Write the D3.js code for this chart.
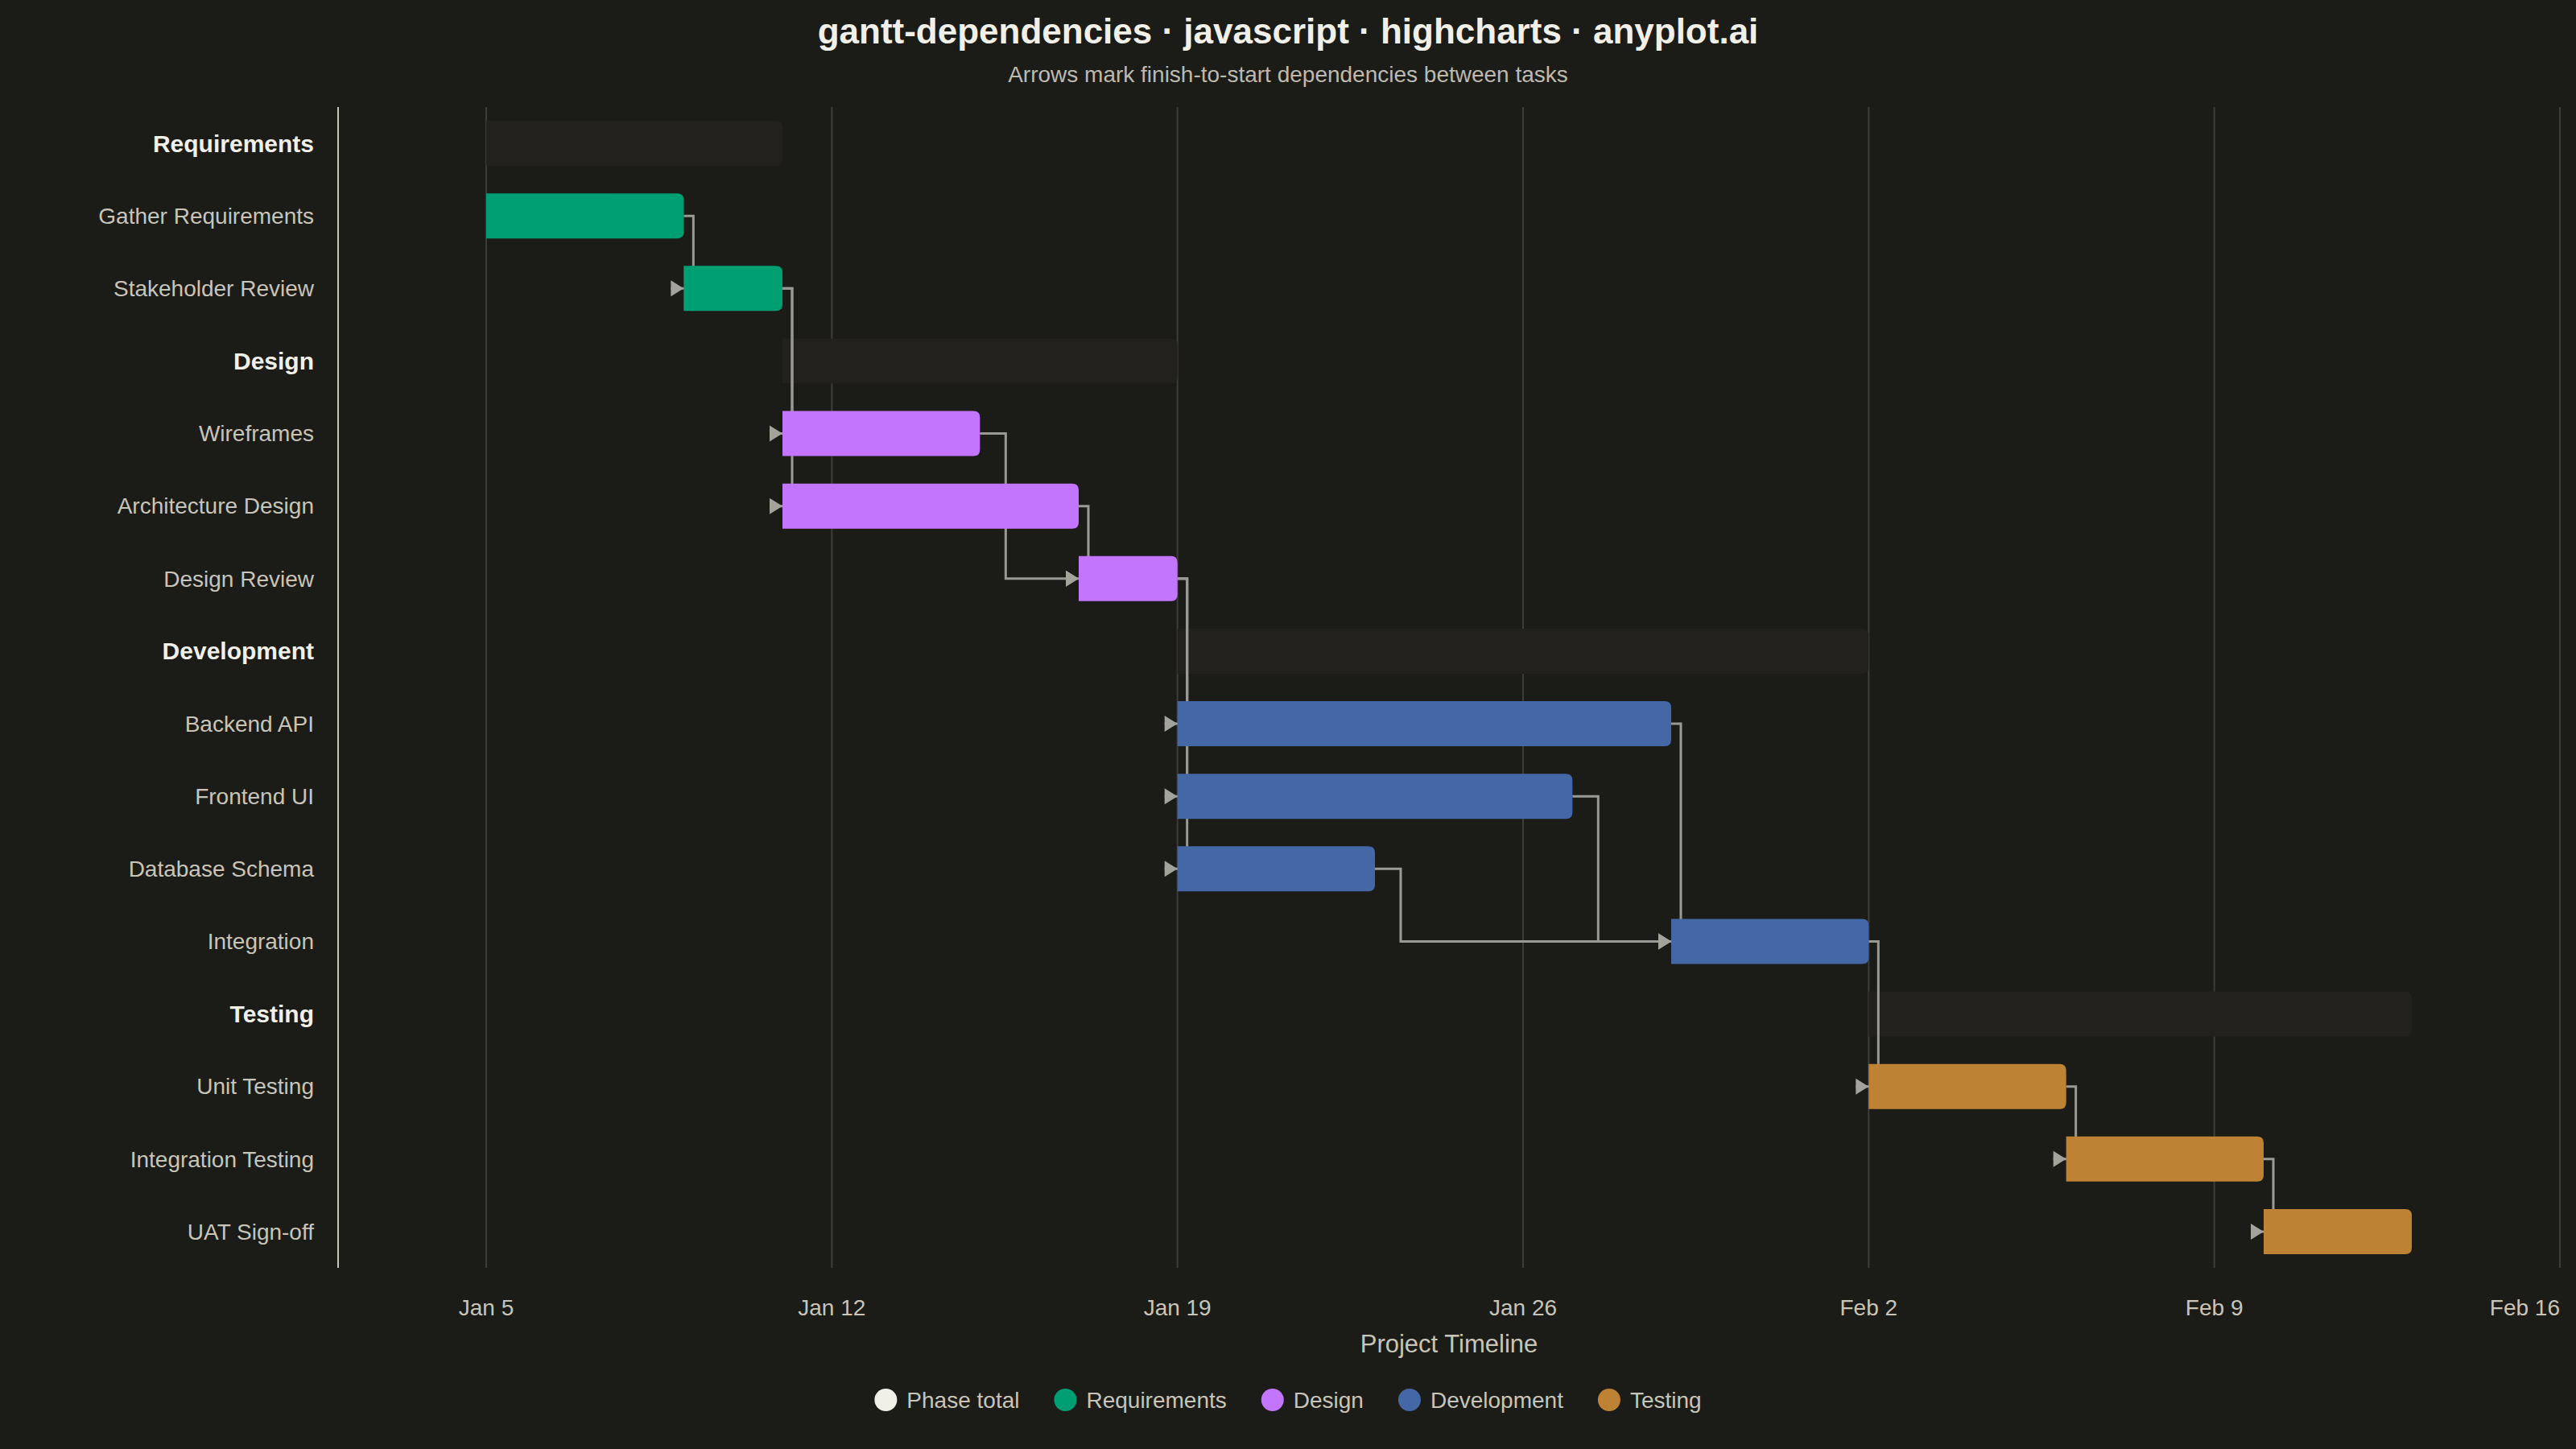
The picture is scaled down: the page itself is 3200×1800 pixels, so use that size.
<!DOCTYPE html>
<html>
<head>
<meta charset="utf-8">
<script src="https://cdn.jsdelivr.net/npm/d3@7"></script>
<style>
html, body { margin: 0; padding: 0; background: #1b1b18; }
svg { display: block; }
text { font-family: "Liberation Sans", Arial, sans-serif; }
</style>
</head>
<body>
<div id="chart"></div>
<script>
var width = 3200, height = 1800;
var margins = {left: 420, right: 20, top: 133, bottom: 225};

// phases and their summary bars
var phases = ['Requirements', 'Design', 'Development', 'Testing'];
var phaseColors = ['#009e73', '#c475fd', '#4467a6', '#bd8233'];
var phaseStart = ['2025-01-05', '2025-01-11', '2025-01-19', '2025-02-02'];
var phaseEnd = ['2025-01-11', '2025-01-19', '2025-02-02', '2025-02-13'];

// tasks
var tasks = ['Gather Requirements', 'Stakeholder Review', 'Wireframes', 'Architecture Design', 'Design Review',
    'Backend API', 'Frontend UI', 'Database Schema', 'Integration', 'Unit Testing', 'Integration Testing', 'UAT Sign-off'];
var taskPhase = [0, 0, 1, 1, 1, 2, 2, 2, 2, 3, 3, 3];
var taskStart = ['2025-01-05', '2025-01-09', '2025-01-11', '2025-01-11', '2025-01-17',
    '2025-01-19', '2025-01-19', '2025-01-19', '2025-01-29', '2025-02-02', '2025-02-06', '2025-02-10'];
var taskEnd = ['2025-01-09', '2025-01-11', '2025-01-15', '2025-01-17', '2025-01-19',
    '2025-01-29', '2025-01-27', '2025-01-23', '2025-02-02', '2025-02-06', '2025-02-10', '2025-02-13'];

// finish-to-start links, [from task, to task]
var dependencies = [[0, 1], [1, 2], [1, 3], [2, 4], [3, 4], [4, 5], [4, 6], [4, 7],
    [5, 8], [6, 8], [7, 8], [8, 9], [9, 10], [10, 11]];

var axisDomain = ['2025-01-02', '2025-02-16'];
var legendLabels = ['Phase total'].concat(phases);
var legendColors = ['#f0efe8'].concat(phaseColors);

var parse = d3.utcParse('%Y-%m-%d');

// one row per phase header followed by its tasks
var rows = [];
phases.forEach(function(p, pi) {
    rows.push({label: p, phase: pi, isPhase: true, start: parse(phaseStart[pi]), end: parse(phaseEnd[pi])});
    tasks.forEach(function(t, ti) {
        if (taskPhase[ti] === pi) rows.push({label: t, phase: pi, isPhase: false, task: ti,
            start: parse(taskStart[ti]), end: parse(taskEnd[ti])});
    });
});
var taskRow = {};
rows.forEach(function(r, i) { r.index = i; if (!r.isPhase) taskRow[r.task] = r; });

var x = d3.scaleUtc()
    .domain(axisDomain.map(parse))
    .range([margins.left, width - margins.right]);
var y = d3.scaleBand()
    .domain(d3.range(rows.length))
    .range([margins.top, height - margins.bottom]);
var barH = y.bandwidth() * 0.62;

var vis = d3.select('#chart').append('svg')
    .attr('width', width)
    .attr('height', height)
    .attr('viewBox', '0 0 ' + width + ' ' + height);

vis.append('rect').attr('width', width).attr('height', height).attr('fill', '#1b1b18');

// title
vis.append('text')
    .attr('x', width / 2).attr('y', 54)
    .attr('text-anchor', 'middle')
    .attr('font-size', 44).attr('font-weight', 'bold')
    .attr('fill', '#f0efe8')
    .text('gantt-dependencies \u00b7 javascript \u00b7 highcharts \u00b7 anyplot.ai');
vis.append('text')
    .attr('x', width / 2).attr('y', 102)
    .attr('text-anchor', 'middle')
    .attr('font-size', 28)
    .attr('fill', '#bdb9ae')
    .text('Arrows mark finish-to-start dependencies between tasks');

// vertical grid
var ticks = x.ticks(d3.utcSunday);
vis.append('g').selectAll('line')
    .data(ticks)
    .enter().append('line')
    .attr('x1', function(d) { return x(d); })
    .attr('x2', function(d) { return x(d); })
    .attr('y1', margins.top).attr('y2', height - margins.bottom)
    .attr('stroke', '#3c3c38').attr('stroke-width', 2);

// tick labels
var fmt = d3.utcFormat('%b %-d');
vis.append('g').selectAll('text')
    .data(ticks)
    .enter().append('text')
    .attr('x', function(d, i) { return i === ticks.length - 1 ? width - margins.right : x(d); })
    .attr('y', 1634)
    .attr('text-anchor', function(d, i) { return i === ticks.length - 1 ? 'end' : 'middle'; })
    .attr('font-size', 28)
    .attr('fill', '#c8c4b8')
    .text(fmt);

vis.append('text')
    .attr('x', (margins.left + width - margins.right) / 2).attr('y', 1680)
    .attr('text-anchor', 'middle')
    .attr('font-size', 31)
    .attr('fill', '#c8c4b8')
    .text('Project Timeline');

// left axis line
vis.append('line')
    .attr('x1', margins.left).attr('x2', margins.left)
    .attr('y1', margins.top).attr('y2', height - margins.bottom)
    .attr('stroke', '#c8c4b8').attr('stroke-width', 2);

// row labels
vis.append('g').selectAll('text')
    .data(rows)
    .enter().append('text')
    .attr('x', 390)
    .attr('y', function(d) { return y(d.index) + y.bandwidth() / 2; })
    .attr('dy', '0.35em')
    .attr('text-anchor', 'end')
    .attr('font-size', function(d) { return d.isPhase ? 30 : 28; })
    .attr('font-weight', function(d) { return d.isPhase ? 'bold' : 'normal'; })
    .attr('fill', function(d) { return d.isPhase ? '#f0efe8' : '#c8c4b8'; })
    .text(function(d) { return d.label; });

// bar with rounded right end only
function barPath(x0, x1, yc, h, r) {
    var t = yc - h / 2, b = yc + h / 2;
    return 'M' + x0 + ',' + t + 'H' + (x1 - r) + 'Q' + x1 + ',' + t + ' ' + x1 + ',' + (t + r) +
        'V' + (b - r) + 'Q' + x1 + ',' + b + ' ' + (x1 - r) + ',' + b + 'H' + x0 + 'Z';
}
function rowMid(r) { return y(r.index) + y.bandwidth() / 2; }

// phase summary bars
vis.append('g').selectAll('path')
    .data(rows.filter(function(r) { return r.isPhase; }))
    .enter().append('path')
    .attr('d', function(d) { return barPath(x(d.start), x(d.end), rowMid(d), barH, 8); })
    .attr('fill', '#22211e');

// dependency connectors
var arrowLen = 16, arrowHalf = 10;
var links = dependencies.map(function(dep) {
    var a = taskRow[dep[0]], b = taskRow[dep[1]];
    var x1 = x(a.end), x2 = x(b.start);
    var off = x2 - x1 > 1 ? 32 : 12;
    return {x1: x1, y1: rowMid(a), xm: x1 + off, x2: x2, y2: rowMid(b)};
});
vis.append('g').selectAll('path')
    .data(links)
    .enter().append('path')
    .attr('d', function(d) {
        return 'M' + d.x1 + ',' + d.y1 + 'H' + d.xm + 'V' + d.y2 + 'H' + (d.x2 - arrowLen);
    })
    .attr('fill', 'none')
    .attr('stroke', '#9a9a94')
    .attr('stroke-width', 3);
vis.append('g').selectAll('path')
    .data(links)
    .enter().append('path')
    .attr('d', function(d) {
        return 'M' + d.x2 + ',' + d.y2 + 'L' + (d.x2 - arrowLen) + ',' + (d.y2 - arrowHalf) +
            'L' + (d.x2 - arrowLen) + ',' + (d.y2 + arrowHalf) + 'Z';
    })
    .attr('fill', '#a3a39c');

// task bars
vis.append('g').selectAll('path')
    .data(rows.filter(function(r) { return !r.isPhase; }))
    .enter().append('path')
    .attr('d', function(d) { return barPath(x(d.start), x(d.end), rowMid(d), barH, 8); })
    .attr('fill', function(d) { return phaseColors[d.phase]; });

// legend
var legend = vis.append('g');
var lx = 0;
legendLabels.forEach(function(l, i) {
    var item = legend.append('g').attr('transform', 'translate(' + lx + ',0)');
    item.append('circle').attr('cx', 14).attr('cy', 0).attr('r', 14).attr('fill', legendColors[i]);
    var t = item.append('text')
        .attr('x', 40).attr('y', 0).attr('dy', '0.35em')
        .attr('font-size', 28).attr('fill', '#c8c4b8')
        .text(l);
    lx += 40 + t.node().getComputedTextLength() + 43;
});
lx -= 43;
legend.attr('transform', 'translate(' + (width / 2 - lx / 2) + ',1739)');
</script>
</body>
</html>
